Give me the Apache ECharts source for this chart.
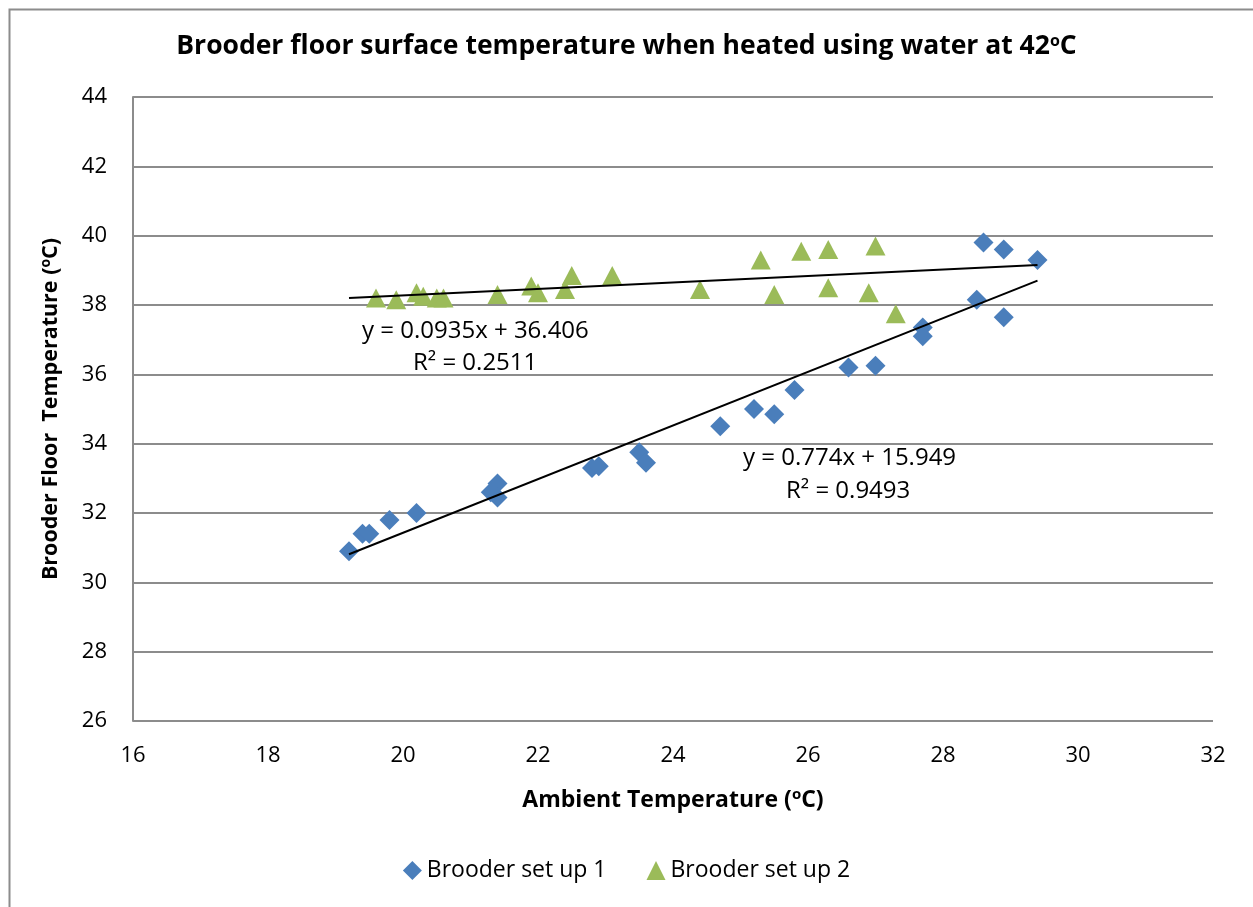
<!DOCTYPE html>
<html>
<head>
<meta charset="utf-8">
<title>Brooder floor surface temperature</title>
<script src="https://cdn.jsdelivr.net/npm/echarts@6/dist/echarts.min.js"></script>
<style>
  html, body { margin: 0; padding: 0; background: #fff }
  #chart { width: 1253px; height: 907px }
</style>
</head>
<body>
<div id="chart"></div>
<script>
// Brooder set up 1 (ambient x, floor y)
const setup1X = [19.2, 19.4, 19.5, 19.8, 20.2, 21.3, 21.4, 21.4, 22.8, 22.9, 23.5, 23.6, 24.7, 25.2, 25.5, 25.8, 26.6, 27.0, 27.7, 27.7, 28.5, 28.6, 28.9, 28.9, 29.4]
const setup1Y = [30.9, 31.4, 31.4, 31.8, 32.0, 32.6, 32.85, 32.45, 33.3, 33.35, 33.75, 33.45, 34.5, 35.0, 34.85, 35.55, 36.2, 36.25, 37.35, 37.1, 38.15, 39.8, 39.6, 37.65, 39.3]

// Brooder set up 2
const setup2X = [19.6, 19.9, 20.2, 20.3, 20.5, 20.6, 21.4, 21.9, 22.0, 22.4, 22.5, 23.1, 24.4, 25.3, 25.5, 25.9, 26.3, 26.3, 26.9, 27.0, 27.3]
const setup2Y = [38.2, 38.15, 38.35, 38.25, 38.2, 38.2, 38.3, 38.55, 38.35, 38.45, 38.85, 38.85, 38.45, 39.3, 38.3, 39.55, 39.6, 38.5, 38.35, 39.7, 37.75]

// linear trendlines as printed on the chart
const trend1 = { slope: 0.774, icept: 15.949, r2: '0.9493' }
const trend2 = { slope: 0.0935, icept: 36.406, r2: '0.2511' }
const trendRange = [19.2, 29.4]

const FONT = '"Open Sans", "Liberation Sans", sans-serif'
const pts = (xs, ys) => xs.map((x, i) => [x, ys[i]])
const line = t => trendRange.map(x => [x, t.slope * x + t.icept])
const sup = size => ({ s: { fontSize: size, fontWeight: 'bold', verticalAlign: 'top', padding: [0, 0, Math.round(size * 0.7), 0] } })
const eqText = (x, y, text) => ({
  type: 'text', x: x, y: y,
  style: { text: text, font: '24px ' + FONT, fill: '#000', verticalAlign: 'middle' }
})

const chart = echarts.init(document.getElementById('chart'))
chart.setOption({
  animation: false,
  textStyle: { fontFamily: FONT },
  title: {
    text: 'Brooder floor surface temperature when heated using water at 42{s|o}C',
    left: 'center', top: 28,
    textStyle: { fontFamily: FONT, fontSize: 26.5, fontWeight: 'bold', color: '#000', rich: sup(16) }
  },
  legend: {
    bottom: 20, left: 'center', itemGap: 40, itemWidth: 19, itemHeight: 19,
    textStyle: { fontSize: 23, color: '#000', fontFamily: FONT },
    data: [
      { name: 'Brooder set up 1', icon: 'diamond' },
      { name: 'Brooder set up 2', icon: 'triangle' }
    ]
  },
  grid: { left: 133, right: 40, top: 97, bottom: 186 },
  xAxis: {
    type: 'value', min: 16, max: 32, interval: 2,
    name: 'Ambient Temperature ({s|o}C)', nameLocation: 'middle', nameGap: 66,
    nameTextStyle: { fontSize: 23, fontWeight: 'bold', color: '#000', rich: sup(15) },
    axisLine: { show: false },
    axisTick: { show: false },
    splitLine: { show: false },
    axisLabel: { fontSize: 22, color: '#000', margin: 24 }
  },
  yAxis: {
    type: 'value', min: 26, max: 44, interval: 2,
    name: 'Brooder Floor  Temperature ({s|o}C)', nameLocation: 'middle', nameGap: 70,
    nameTextStyle: { fontSize: 21.5, fontWeight: 'bold', color: '#000', rich: sup(14) },
    axisLine: { show: true, lineStyle: { color: '#8c8c8c', width: 2 } },
    axisTick: { show: false },
    splitLine: { lineStyle: { color: '#8c8c8c', width: 2 } },
    axisLabel: { fontSize: 22, color: '#000', margin: 26 }
  },
  series: [
    {
      name: 'Brooder set up 1', type: 'scatter', symbol: 'diamond', symbolSize: 20,
      itemStyle: { color: '#4a7ebb', opacity: 1 }, z: 3,
      data: pts(setup1X, setup1Y)
    },
    {
      name: 'Brooder set up 2', type: 'scatter', symbol: 'triangle', symbolSize: [20, 19],
      itemStyle: { color: '#9bbb59', opacity: 1 }, z: 3,
      data: pts(setup2X, setup2Y)
    },
    {
      name: 'trend1', type: 'line', data: line(trend1), symbol: 'none', silent: true,
      lineStyle: { color: '#000', width: 2 }, z: 4
    },
    {
      name: 'trend2', type: 'line', data: line(trend2), symbol: 'none', silent: true,
      lineStyle: { color: '#000', width: 2 }, z: 4
    }
  ],
  graphic: [
    { type: 'rect', left: 7, top: 7, shape: { width: 1260, height: 920 }, style: { fill: 'none', stroke: '#8c8c8c', lineWidth: 2 }, silent: true },
    eqText(362, 331, 'y = ' + trend2.slope + 'x + ' + trend2.icept),
    eqText(413, 363, 'R² = ' + trend2.r2),
    eqText(743, 458, 'y = ' + trend1.slope + 'x + ' + trend1.icept),
    eqText(786, 491, 'R² = ' + trend1.r2)
  ]
})
</script>
</body>
</html>
